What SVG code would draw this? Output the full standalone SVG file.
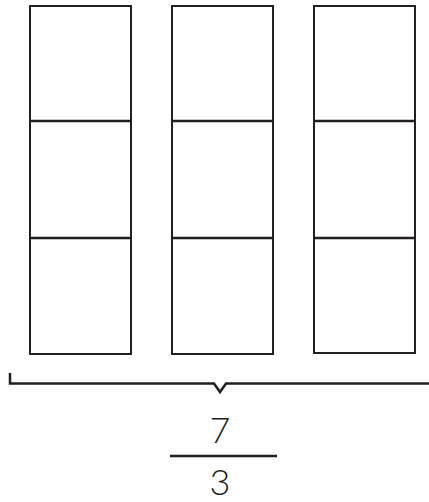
<svg xmlns="http://www.w3.org/2000/svg" width="429" height="502" viewBox="0 0 429 502">
<style>
.box{fill:#fff;stroke:#231f20;stroke-width:2}
.div{stroke:#231f20;stroke-width:2.5}
.ln{fill:none;stroke:#231f20;stroke-width:2.5}
.num{font-family:Lato,"Liberation Sans",sans-serif;font-weight:300;font-size:36px;fill:#231f20;text-anchor:middle}
</style>
<rect width="429" height="502" fill="#fff"/>
<g id="col1">
<rect class="box" x="30" y="6" width="101" height="348"/>
<line class="div" x1="30" y1="121" x2="131" y2="121"/>
<line class="div" x1="30" y1="238" x2="131" y2="238"/>
</g>
<g id="col2">
<rect class="box" x="172" y="6" width="101" height="348"/>
<line class="div" x1="172" y1="121" x2="273" y2="121"/>
<line class="div" x1="172" y1="238" x2="273" y2="238"/>
</g>
<g id="col3">
<rect class="box" x="314" y="6" width="101" height="347"/>
<line class="div" x1="314" y1="121" x2="415" y2="121"/>
<line class="div" x1="314" y1="238" x2="415" y2="238"/>
</g>
<g id="connectors">
<path class="ln" d="M10,373 V383.5 H214 L220,392 L226,383.5 H429"/>
</g>
<g id="fraction">
<text class="num" x="220" y="443">7</text>
<line x1="170" y1="456" x2="277" y2="456" stroke="#231f20" stroke-width="2.5"/>
<text class="num" x="220" y="495">3</text>
</g>
</svg>
